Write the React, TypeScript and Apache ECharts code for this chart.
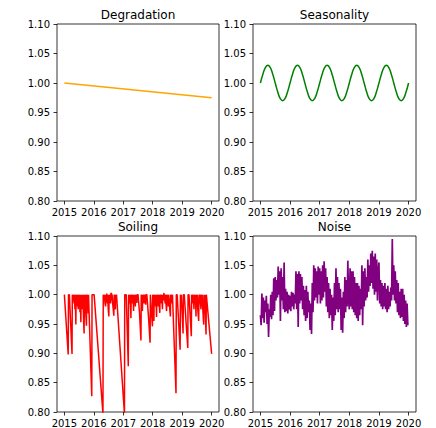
import React, { useEffect, useRef } from "react";
import * as echarts from "echarts";

const YEAR_TICKS = [2015, 2016, 2017, 2018, 2019, 2020];
const TITLES = ["Degradation", "Seasonality", "Soiling", "Noise"];
const COLORS = ["#ffa500", "#008000", "#ff0000", "#800080"];

const degradationYears = [2015, 2020];
const degradationValues = [1.0, 0.975];

// monthly samples from Jan 2015 to Jan 2020
const seasonalityValues = [
  1.0, 1.015, 1.026, 1.03, 1.026, 1.015, 1.0, 0.985, 0.974, 0.97, 0.974, 0.985,
  1.0, 1.015, 1.026, 1.03, 1.026, 1.015, 1.0, 0.985, 0.974, 0.97, 0.974, 0.985,
  1.0, 1.015, 1.026, 1.03, 1.026, 1.015, 1.0, 0.985, 0.974, 0.97, 0.974, 0.985,
  1.0, 1.015, 1.026, 1.03, 1.026, 1.015, 1.0, 0.985, 0.974, 0.97, 0.974, 0.985,
  1.0, 1.015, 1.026, 1.03, 1.026, 1.015, 1.0, 0.985, 0.974, 0.97, 0.974, 0.985,
  1.0,
];

const soilingPoints: [number, number][] = [
  [2015.0, 1.0], [2015.13, 0.898], [2015.14, 1.0], [2015.17, 1.0], [2015.26, 0.899], [2015.27, 1.0],
  [2015.3, 0.99], [2015.31, 1.0], [2015.33, 0.985], [2015.34, 1.0], [2015.36, 0.975], [2015.37, 1.0],
  [2015.39, 0.949], [2015.4, 1.0], [2015.42, 0.985], [2015.43, 1.0], [2015.45, 0.98], [2015.46, 1.0],
  [2015.47, 0.975], [2015.48, 1.0], [2015.5, 0.985], [2015.51, 1.0], [2015.53, 0.97], [2015.54, 1.0],
  [2015.56, 0.953], [2015.57, 1.0], [2015.59, 0.975], [2015.6, 1.0], [2015.62, 0.98], [2015.63, 1.0],
  [2015.65, 0.96], [2015.67, 0.934], [2015.68, 1.0], [2015.7, 0.985], [2015.71, 1.0], [2015.73, 0.965],
  [2015.75, 0.947], [2015.76, 1.0], [2015.78, 0.985], [2015.79, 1.0], [2015.81, 0.968], [2015.82, 1.0],
  [2015.84, 1.0], [2015.93, 0.827], [2015.94, 1.0], [2016.01, 1.0], [2016.31, 0.797], [2016.32, 1.0],
  [2016.35, 0.99], [2016.36, 1.0], [2016.38, 0.985], [2016.4, 0.98], [2016.41, 1.0], [2016.43, 0.99],
  [2016.44, 1.002], [2016.46, 0.985], [2016.47, 1.0], [2016.49, 0.975], [2016.51, 0.963], [2016.52, 1.0],
  [2016.54, 0.99], [2016.55, 1.0], [2016.57, 0.985], [2016.58, 1.002], [2016.6, 1.003], [2016.61, 0.99],
  [2016.62, 1.0], [2016.64, 0.985], [2016.66, 0.975], [2016.68, 0.964], [2016.69, 1.0], [2016.71, 0.99],
  [2016.73, 0.975], [2016.74, 1.0], [2016.76, 0.99], [2016.77, 1.0], [2016.79, 1.0], [2017.04, 0.797],
  [2017.05, 1.0], [2017.1, 1.0], [2017.17, 0.878], [2017.18, 1.0], [2017.22, 0.985], [2017.23, 1.0],
  [2017.25, 0.975], [2017.26, 0.96], [2017.27, 1.0], [2017.29, 0.99], [2017.3, 1.0], [2017.32, 0.985],
  [2017.33, 1.0], [2017.35, 0.972], [2017.36, 1.0], [2017.38, 0.99], [2017.39, 1.0], [2017.41, 0.98],
  [2017.42, 1.0], [2017.44, 0.99], [2017.46, 0.986], [2017.47, 1.0], [2017.5, 1.0], [2017.55, 0.97],
  [2017.6, 0.922], [2017.61, 1.0], [2017.63, 0.985], [2017.65, 0.972], [2017.66, 1.0], [2017.68, 0.99],
  [2017.69, 1.0], [2017.71, 0.985], [2017.72, 1.0], [2017.74, 0.99], [2017.76, 0.983], [2017.77, 1.0],
  [2017.8, 1.0], [2017.86, 0.96], [2017.91, 0.918], [2017.92, 1.0], [2017.95, 0.975], [2017.99, 0.946],
  [2018.0, 1.0], [2018.02, 0.985], [2018.04, 0.955], [2018.05, 1.0], [2018.07, 0.99], [2018.08, 1.0],
  [2018.1, 0.98], [2018.11, 1.0], [2018.13, 0.962], [2018.14, 1.0], [2018.16, 0.99], [2018.17, 1.0],
  [2018.19, 0.98], [2018.2, 1.0], [2018.22, 0.985], [2018.24, 0.969], [2018.25, 1.0], [2018.27, 0.99],
  [2018.28, 1.0], [2018.3, 0.985], [2018.31, 1.0], [2018.33, 0.975], [2018.34, 1.0], [2018.36, 0.99],
  [2018.38, 1.003], [2018.39, 0.99], [2018.4, 1.0], [2018.42, 0.985], [2018.43, 1.0], [2018.45, 0.985],
  [2018.47, 0.972], [2018.48, 1.0], [2018.5, 0.99], [2018.51, 1.0], [2018.53, 0.98], [2018.54, 1.0],
  [2018.56, 0.99], [2018.58, 0.975], [2018.6, 0.963], [2018.61, 1.0], [2018.63, 0.99], [2018.64, 1.0],
  [2018.66, 0.985], [2018.67, 1.0], [2018.69, 1.0], [2018.79, 0.832], [2018.8, 1.0], [2018.83, 1.0],
  [2018.93, 0.906], [2018.94, 1.0], [2018.96, 0.985], [2018.97, 1.0], [2019.03, 0.934], [2019.04, 1.0],
  [2019.07, 1.0], [2019.19, 0.909], [2019.2, 1.0], [2019.23, 1.0], [2019.31, 0.929], [2019.32, 1.0],
  [2019.34, 0.99], [2019.35, 1.0], [2019.37, 0.985], [2019.38, 1.0], [2019.4, 0.975], [2019.41, 1.0],
  [2019.43, 0.99], [2019.44, 1.0], [2019.46, 0.98], [2019.47, 0.963], [2019.48, 1.0], [2019.5, 0.985],
  [2019.51, 1.0], [2019.53, 0.975], [2019.56, 0.955], [2019.57, 1.0], [2019.59, 0.985], [2019.6, 1.0],
  [2019.62, 0.985], [2019.64, 0.975], [2019.65, 1.0], [2019.67, 0.99], [2019.68, 1.0], [2019.7, 0.975],
  [2019.73, 0.949], [2019.74, 1.0], [2019.76, 0.98], [2019.77, 1.0], [2019.79, 0.96], [2019.81, 0.932],
  [2019.82, 1.0], [2019.84, 1.0], [2020.0, 0.899],
];

// samples every 0.025 year from 2015.0
const noiseValues = [
  0.965, 0.948, 1.002, 0.96, 0.995, 0.952, 0.99, 0.97, 0.998, 0.95,
  0.985, 0.928, 0.975, 0.962, 1.0, 0.958, 1.005, 0.965, 1.028, 0.972,
  1.03, 0.99, 1.025, 0.995, 1.048, 1.0, 1.04, 0.955, 1.045, 0.99,
  1.03, 0.975, 1.055, 0.97, 1.01, 0.972, 1.005, 0.968, 1.0, 0.975,
  0.998, 0.972, 1.005, 0.98, 1.003, 0.975, 1.0, 0.985, 1.04, 0.975,
  1.035, 0.945, 1.04, 0.985, 1.035, 0.99, 1.03, 0.975, 1.015, 0.965,
  1.008, 0.955, 1.015, 0.96, 1.005, 0.97, 0.99, 0.94, 0.985, 0.933,
  1.02, 0.97, 1.05, 0.99, 1.045, 0.995, 1.04, 0.985, 1.048, 1.0,
  1.045, 0.985, 1.04, 0.99, 1.05, 0.995, 1.057, 1.005, 1.045, 0.98,
  1.03, 0.97, 1.02, 0.96, 1.01, 0.965, 1.0, 0.94, 0.995, 0.955,
  1.02, 0.965, 1.045, 0.975, 1.03, 0.97, 1.02, 0.975, 1.01, 0.94,
  0.995, 0.935, 1.005, 0.96, 1.03, 0.97, 1.025, 0.98, 1.058, 0.99,
  0.975, 1.045, 0.98, 1.04, 0.975, 1.04, 0.97, 1.03, 0.965, 1.02,
  0.96, 1.02, 0.955, 1.015, 0.965, 1.01, 0.975, 1.05, 0.948, 1.04,
  0.98, 1.045, 0.99, 1.03, 0.995, 1.06, 1.005, 1.05, 1.015, 1.07,
  1.02, 1.075, 1.01, 1.065, 1.0, 1.07, 1.005, 1.06, 0.99, 1.04,
  1.055, 0.985, 1.025, 0.98, 1.02, 0.975, 1.015, 0.98, 1.02, 0.975,
  1.01, 0.97, 1.015, 0.975, 1.005, 0.98, 1.012, 0.99, 1.095, 1.0,
  1.05, 0.99, 1.04, 0.985, 1.025, 0.97, 1.02, 0.965, 1.005, 0.96,
  1.01, 0.962, 1.01, 0.955, 1.0, 0.95, 0.99, 0.945, 0.985, 0.948,
];

const GRIDS = [
  { left: 57, top: 24, width: 162, height: 177 },
  { left: 253, top: 24, width: 163, height: 177 },
  { left: 57, top: 236, width: 162, height: 176 },
  { left: 253, top: 236, width: 163, height: 176 },
];

const FONT = "DejaVu Sans";

export default function App() {
  const ref = useRef<HTMLDivElement>(null);
  useEffect(() => {
    document.body.style.margin = "0";
    const chart = echarts.init(ref.current!, undefined, { renderer: "svg" });

    const seriesData: [number, number][][] = [
      degradationYears.map((y, i) => [y, degradationValues[i]]),
      seasonalityValues.map((v, i) => [2015 + i / 12, v]),
      soilingPoints.map((p) => [p[0], p[1]]),
      noiseValues.map((v, i) => [2015 + i * 0.025, v]),
    ];

    const option: any = {
      animation: false,
      grid: GRIDS.map((g) => ({
        ...g,
        show: true,
        borderColor: "#000",
        borderWidth: 0.8,
        backgroundColor: "transparent",
      })),
      xAxis: GRIDS.map((_, i) => ({
        type: "value",
        gridIndex: i,
        min: 2014.75,
        max: 2020.25,
        axisLine: { show: false },
        splitLine: { show: false },
        axisTick: {
          show: true,
          length: 3.5,
          customValues: YEAR_TICKS,
          lineStyle: { color: "#000", width: 0.8 },
        },
        axisLabel: {
          customValues: YEAR_TICKS,
          margin: 6,
          fontFamily: FONT,
          fontSize: 10,
          color: "#000",
          formatter: (v: number) => String(Math.round(v)),
        },
      })),
      yAxis: GRIDS.map((_, i) => ({
        type: "value",
        gridIndex: i,
        min: 0.8,
        max: 1.1,
        interval: 0.05,
        axisLine: { show: false },
        splitLine: { show: false },
        axisTick: {
          show: true,
          length: 3.5,
          lineStyle: { color: "#000", width: 0.8 },
        },
        axisLabel: {
          margin: 7,
          fontFamily: FONT,
          fontSize: 10,
          color: "#000",
          formatter: (v: number) => v.toFixed(2),
        },
      })),
      graphic: GRIDS.map((g, i) => ({
        type: "text",
        x: g.left + g.width / 2,
        y: g.top - 9,
        style: {
          text: TITLES[i],
          font: `12px "${FONT}"`,
          fill: "#000",
          textAlign: "center",
          textVerticalAlign: "middle",
        },
      })),
      series: seriesData.map((d, i) => ({
        type: "line",
        xAxisIndex: i,
        yAxisIndex: i,
        data: d,
        showSymbol: false,
        smooth: i === 1,
        lineStyle: { color: COLORS[i], width: i === 3 ? 1.7 : 1.5 },
        itemStyle: { color: COLORS[i] },
      })),
    };
    chart.setOption(option);
    return () => chart.dispose();
  }, []);
  return <div ref={ref} style={{ width: 436, height: 428 }} />;
}
